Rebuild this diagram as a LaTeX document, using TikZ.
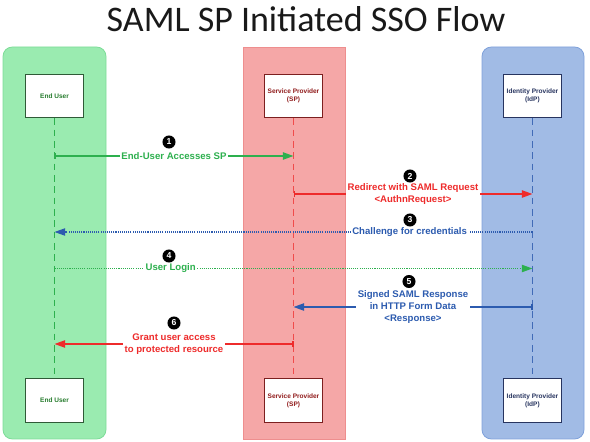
\documentclass[tikz,border=0pt]{standalone}
\usepackage{fontspec}
\setmainfont{Liberation Sans}
\newfontfamily\titlefont{Carlito}
\usetikzlibrary{arrows.meta,positioning}
\definecolor{LaneGreen}{HTML}{9AEBB0}
\definecolor{LaneGreenEdge}{HTML}{7DDC98}
\definecolor{LaneRed}{HTML}{F5A7A7}
\definecolor{LaneRedEdge}{HTML}{EE8E8E}
\definecolor{LaneBlue}{HTML}{A1BBE5}
\definecolor{LaneBlueEdge}{HTML}{7FA1DA}
\definecolor{FlowGreen}{HTML}{2DB04E}
\definecolor{FlowRed}{HTML}{EE2B2B}
\definecolor{FlowBlue}{HTML}{2C5BAF}
\definecolor{BoxGreen}{HTML}{2F5A37}
\definecolor{BoxRed}{HTML}{7C1F1F}
\definecolor{BoxBlue}{HTML}{27345F}

\begin{document}
\begin{tikzpicture}[x=0.75pt, y=-0.75pt,
  actor/.style={draw, fill=white, line width=0.9pt, minimum width=43.5pt,
    minimum height=32.5pt, align=center, inner sep=1pt,
    font=\fontsize{4.9}{5.9}\selectfont\bfseries},
  lifeline/.style={line width=1.1pt, dash pattern=on 5pt off 3.5pt},
  msg/.style={line width=1.1pt, {Bar[width=4pt]}-{Triangle[length=8pt,width=5.5pt]}},
  msgdot/.style={line width=0.8pt, dash pattern=on 0.8pt off 0.8pt,
    -{Triangle[length=8pt,width=5.5pt]}},
  lbl/.style={fill=white, inner sep=1.2pt, align=center,
    font=\fontsize{7.2}{8.9}\selectfont\bfseries},
  num/.style={circle, fill=black, text=white, inner sep=0pt, minimum size=9.8pt,
    font=\fontsize{6.5}{6.5}\selectfont\bfseries}]
\useasboundingbox (0,0) rectangle (590,442);

% Title
\node[anchor=base, font=\titlefont\fontsize{27}{30}\selectfont, text=black!90] (title) at (306,32) {SAML SP Initiated SSO Flow};

% Swim lanes
\draw[fill=LaneGreen, draw=LaneGreenEdge, line width=0.6pt, rounded corners=7pt] (3,47) rectangle (106,439);
\draw[fill=LaneRed, draw=LaneRedEdge, line width=0.6pt] (243,47) rectangle (345,439);
\draw[fill=LaneBlue, draw=LaneBlueEdge, line width=0.6pt, rounded corners=7pt] (482,47) rectangle (584,439);

% Actors (top and bottom)
\node[actor, draw=BoxGreen, text=BoxGreen!80!green] (eut) at (54.5,96) {End User};
\node[actor, draw=BoxRed, text=BoxRed!85!red] (spt) at (293.5,96) {Service Provider\\(SP)};
\node[actor, draw=BoxBlue, text=BoxBlue] (idpt) at (532.5,96) {Identity Provider\\(IdP)};
\node[actor, draw=BoxGreen, text=BoxGreen!80!green] (eub) at (54.5,400.5) {End User};
\node[actor, draw=BoxRed, text=BoxRed!85!red] (spb) at (293.5,400.5) {Service Provider\\(SP)};
\node[actor, draw=BoxBlue, text=BoxBlue] (idpb) at (532.5,400.5) {Identity Provider\\(IdP)};

% Lifelines
\draw[lifeline, FlowGreen] (eut) -- (eub);
\draw[lifeline, FlowRed!85] (spt) -- (spb);
\draw[lifeline, FlowBlue!90] (idpt) -- (idpb);

% Message heights
\coordinate (m1) at (0,156);
\coordinate (m2) at (0,194);
\coordinate (m3) at (0,232);
\coordinate (m4) at (0,268.5);
\coordinate (m5) at (0,307);
\coordinate (m6) at (0,344);

% Messages
\draw[msg, FlowGreen] (eut |- m1) -- node[lbl, text=FlowGreen] (l1) {End-User Accesses SP} (spt |- m1);
\draw[msg, FlowRed] (spt |- m2) -- node[lbl, text=FlowRed] (l2) {Redirect with SAML Request\\{<}AuthnRequest{>}} (idpt |- m2);
\draw[msgdot, FlowBlue] (idpt |- m3) -- node[lbl, text=FlowBlue, pos=0.257] (l3) {Challenge for credentials} (eut |- m3);
\draw[msgdot, FlowGreen] (eut |- m4) -- node[lbl, text=FlowGreen, pos=0.243] (l4) {User Login} (idpt |- m4);
\draw[msg, FlowBlue] (idpt |- m5) -- node[lbl, text=FlowBlue] (l5) {Signed SAML Response\\in HTTP Form Data\\{<}Response{>}} (spt |- m5);
\draw[msg, FlowRed] (spt |- m6) -- node[lbl, text=FlowRed] (l6) {Grant user access\\to protected resource} (eut |- m6);

% Step numbers
\node[num] (n1) at (169,142) {1};
\node[num] (n2) at (410,176) {2};
\node[num] (n3) at (410,220) {3};
\node[num] (n4) at (169,256) {4};
\node[num] (n5) at (409,281.5) {5};
\node[num] (n6) at (174,323) {6};
\end{tikzpicture}
\end{document}
